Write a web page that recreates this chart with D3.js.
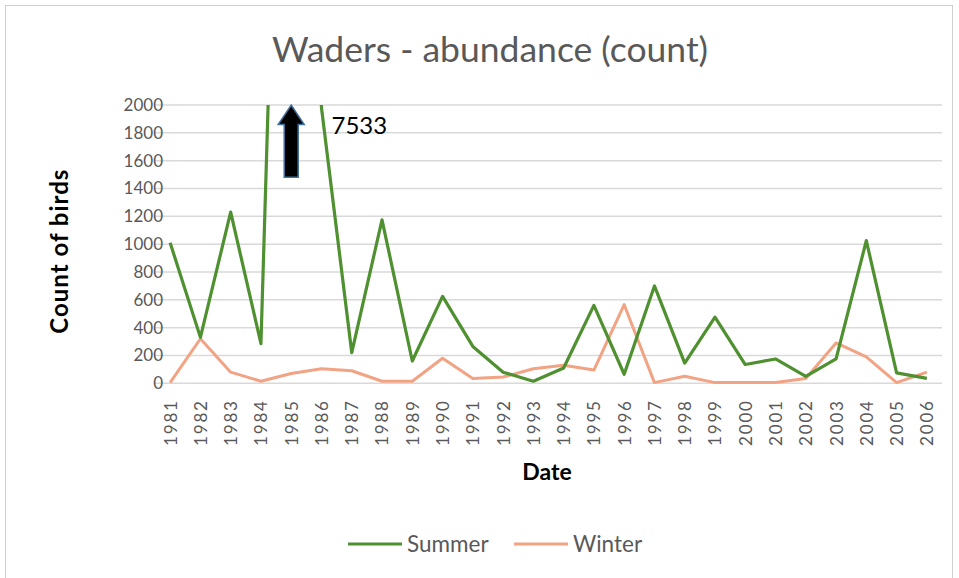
<!DOCTYPE html>
<html>
<head>
<meta charset="utf-8">
<script src="https://cdn.jsdelivr.net/npm/d3@7"></script>
<style>
  body { margin: 0; background: #fff; }
  text { font-family: Lato, "Open Sans", sans-serif; }
</style>
</head>
<body>
<div id="chart"></div>
<script>
var years = ['1981','1982','1983','1984','1985','1986','1987','1988','1989','1990','1991','1992','1993',
             '1994','1995','1996','1997','1998','1999','2000','2001','2002','2003','2004','2005','2006'];
var summer = [1010, 330, 1230, 285, 7533, 1980, 220, 1175, 160, 625, 265, 80, 15,
              110, 560, 65, 700, 145, 475, 135, 175, 50, 175, 1025, 75, 35];
var winter = [5, 320, 80, 15, 70, 105, 90, 15, 15, 180, 35, 45, 105,
              130, 95, 565, 5, 50, 5, 5, 5, 35, 290, 190, 5, 80];
var yTicks = [0, 200, 400, 600, 800, 1000, 1200, 1400, 1600, 1800, 2000];
var peakYear = '1985', peakLabel = '7533';

var W = 959, H = 578;
var plotL = 155, plotR = 942, plotT = 105, plotB = 383.3;

var svg = d3.select('#chart').append('svg')
            .attr('width', W).attr('height', H);

// chart frame
svg.append('rect')
   .attr('x', 5.5).attr('y', 5.5)
   .attr('width', 947).attr('height', 580)
   .attr('fill', '#fff').attr('stroke', '#d0d0d0');

var x = d3.scalePoint().domain(years).range([plotL, plotR]).padding(0.5);
var y = d3.scaleLinear().domain([0, 2000]).range([plotB, plotT]);

// gridlines
svg.append('g')
   .selectAll('line').data(yTicks).enter().append('line')
   .attr('x1', plotL).attr('x2', plotR)
   .attr('y1', function(d) { return y(d); })
   .attr('y2', function(d) { return y(d); })
   .attr('stroke', '#d9d9d9').attr('stroke-width', 1.5);

// y axis labels
var yAxis = svg.append('g')
   .attr('transform', 'translate(' + (plotL + 8) + ',0)')
   .call(d3.axisLeft(y).tickValues(yTicks).tickFormat(d3.format('d')).tickSize(0).tickPadding(0));
yAxis.select('.domain').remove();
yAxis.selectAll('text')
   .attr('font-size', 17).attr('fill', '#595959')
   .style('font-family', 'Lato, "Open Sans", sans-serif');

// x axis labels, rotated
var xAxis = svg.append('g')
   .attr('transform', 'translate(0,' + (plotB + 16) + ')')
   .call(d3.axisBottom(x).tickSize(0).tickPadding(0));
xAxis.select('.domain').remove();
xAxis.selectAll('text')
   .attr('font-size', 17).attr('fill', '#595959')
   .attr('letter-spacing', 1.8)
   .attr('transform', 'rotate(-90)')
   .attr('text-anchor', 'end')
   .attr('dy', '0.35em').attr('x', 0).attr('y', 0)
   .style('font-family', 'Lato, "Open Sans", sans-serif');

// lines, clipped to plot area
svg.append('clipPath').attr('id', 'plotclip')
   .append('rect').attr('x', 0).attr('y', plotT).attr('width', W).attr('height', H);

var line = d3.line()
   .x(function(d, i) { return x(years[i]); })
   .y(function(d) { return y(d); });

var lines = svg.append('g').attr('clip-path', 'url(#plotclip)');
lines.append('path').datum(winter)
   .attr('d', line).attr('fill', 'none')
   .attr('stroke', '#f2a384').attr('stroke-width', 3).attr('stroke-linejoin', 'round');
lines.append('path').datum(summer)
   .attr('d', line).attr('fill', 'none')
   .attr('stroke', '#4f9030').attr('stroke-width', 3.2).attr('stroke-linejoin', 'round');

// arrow annotation for the off-scale 1985 value
var ax = x(peakYear), aTop = y(2000), aBase = y(1860), aBot = y(1480);
svg.append('path')
   .attr('d', d3.line()([[ax - 7, aBot], [ax - 7, aBase], [ax - 13, aBase], [ax, aTop],
                         [ax + 13, aBase], [ax + 7, aBase], [ax + 7, aBot]]) + 'Z')
   .attr('fill', '#000').attr('stroke', '#41719c').attr('stroke-width', 1.5);
svg.append('text')
   .attr('x', x('1986') + 10).attr('y', y(1790))
   .attr('font-size', 24).attr('fill', '#000')
   .text(peakLabel);

// title
svg.append('text')
   .attr('x', 490).attr('y', 62)
   .attr('text-anchor', 'middle')
   .attr('font-size', 35.5).attr('fill', '#595959')
   .text('Waders - abundance (count)');

// axis titles
svg.append('text')
   .attr('transform', 'translate(68,' + ((plotT + plotB) / 2 + 7) + ')rotate(-90)')
   .attr('text-anchor', 'middle')
   .attr('font-size', 24).attr('font-weight', 'bold').attr('fill', '#000')
   .attr('letter-spacing', 1)
   .text('Count of birds');
svg.append('text')
   .attr('x', 547).attr('y', 480)
   .attr('text-anchor', 'middle')
   .attr('font-size', 23).attr('font-weight', 'bold').attr('fill', '#000')
   .text('Date');

// legend
var legend = [{name: 'Summer', color: '#4f9030', x: 348}, {name: 'Winter', color: '#f2a384', x: 514}];
var lg = svg.append('g').selectAll('g').data(legend).enter().append('g')
   .attr('transform', function(d) { return 'translate(' + d.x + ',544)'; });
lg.append('line').attr('x1', 0).attr('x2', 54).attr('y1', 0).attr('y2', 0)
   .attr('stroke', function(d) { return d.color; }).attr('stroke-width', 3);
lg.append('text').attr('x', 59).attr('y', 0).attr('dy', '0.35em')
   .attr('font-size', 22.5).attr('fill', '#595959')
   .text(function(d) { return d.name; });
</script>
</body>
</html>
